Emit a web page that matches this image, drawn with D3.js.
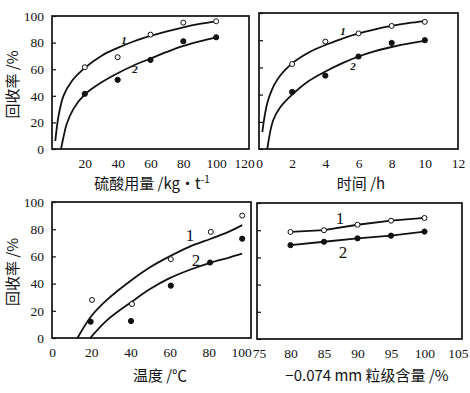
<!DOCTYPE html>
<html><head><meta charset="utf-8">
<script src="https://cdn.jsdelivr.net/npm/d3@7"></script>
<style>
html,body{margin:0;padding:0;background:#fff;}
svg{display:block;}
.tick text{font-family:"Liberation Serif","DejaVu Serif",serif;font-size:13.5px;fill:#111;}
.title{font-family:"Noto Sans CJK SC","Liberation Serif",serif;font-size:15px;fill:#111;}
.cl{font-family:"Liberation Serif",serif;fill:#111;}
</style></head>
<body>
<svg id="c" width="470" height="393"></svg>
<script>
// ---- Data ----
// Panel A: sulfuric acid dosage (kg/t)
const acidX = [20, 40, 60, 80, 100];
const acid1 = [61.5, 69, 86, 95, 96];
const acid2 = [41.5, 52, 67, 81, 84];
const acidCurve1X = [2, 4, 7, 12, 20, 30, 40, 50, 60, 70, 80, 90, 100];
const acidCurve1Y = [6, 25, 40, 51, 61, 70, 76, 81, 85, 88.5, 91.5, 94, 96];
const acidCurve2X = [5.5, 7, 9, 13, 20, 30, 40, 50, 60, 70, 80, 90, 100];
const acidCurve2Y = [0, 9, 19, 30, 41, 50, 57, 63, 68, 73, 77.5, 81, 84];
const acidTicksX = [20, 40, 60, 80, 100, 120];
// Panel B: time (h)
const timeX = [2, 4, 6, 8, 10];
const time1 = [62.5, 79, 85, 90.5, 93.5];
const time2 = [42, 54, 68, 78, 80];
const timeCurve1X = [0.2, 0.55, 1.1, 2, 3, 4, 5, 6, 7, 8, 9, 10];
const timeCurve1Y = [12.5, 36, 51, 63, 71, 76.5, 81, 85, 88, 90.5, 92.5, 94];
const timeCurve2X = [0.5, 0.85, 1.3, 2, 3, 4, 5, 6, 7, 8, 9, 10];
const timeCurve2Y = [0, 21, 31, 40, 50, 57, 63, 68, 72, 75, 77.5, 79.5];
const timeTicksX = [0, 2, 4, 6, 8, 10, 12];
// Panel C: temperature (°C)
const tempX = [20.4, 40.8, 60.6, 81, 97];
const temp1 = [28, 25, 58, 78, 90];
const tempX2 = [19.7, 40.3, 60.6, 80.6, 97];
const temp2 = [12, 12.5, 38.5, 55.5, 73];
const tempCurve1X = [13, 20, 28, 41, 50, 60, 70, 81, 90, 97];
const tempCurve1Y = [0, 16, 28, 43, 52, 60, 67, 73, 78, 83];
const tempCurve2X = [19.5, 28, 41, 50, 60, 70, 81, 90, 97];
const tempCurve2Y = [0, 13, 27, 36, 44, 50, 55.5, 59, 62];
const tempTicksX = [0, 20, 40, 60, 80, 100];
// Panel D: -0.074 mm fraction (%)
const sizeX = [80, 85, 90, 95, 100];
const size1 = [78.7, 80, 84, 87, 89];
const size2 = [69, 71.5, 74, 76, 79];
const sizeTicksX = [75, 80, 85, 90, 95, 100, 105];
const yTicks = [0, 20, 40, 60, 80, 100];
const yTitle = "回收率 /%";

// ---- Drawing ----
const svg = d3.select("#c");
const panels = [
  {xd:[0,120], xr:[52,249], yr:[149,16], xt:acidTicksX, yl:true,
   pts:[[acidX,acid1,false],[acidX,acid2,true]],
   curves:[[acidCurve1X,acidCurve1Y],[acidCurve2X,acidCurve2Y]],
   labels:[["1",124,44,11,true],["2",135,73,11,true]],
   title:"硫酸用量 /kg·t", sup:"-1", tx:152, ty:189},
  {xd:[0,12], xr:[259,458], yr:[149,13], xt:timeTicksX, yl:false,
   pts:[[timeX,time1,false],[timeX,time2,true]],
   curves:[[timeCurve1X,timeCurve1Y],[timeCurve2X,timeCurve2Y]],
   labels:[["1",343,35,11,true],["2",353,70,11,true]],
   title:"时间 /h", tx:361, ty:189},
  {xd:[0,101.5], xr:[52,251], yr:[338,202], xt:tempTicksX, yl:true,
   pts:[[tempX,temp1,false],[tempX2,temp2,true]],
   curves:[[tempCurve1X,tempCurve1Y],[tempCurve2X,tempCurve2Y]],
   labels:[["1",190,241,17,false],["2",196,266,17,false]],
   title:"温度 /℃", tx:160, ty:381},
  {xd:[75,105.6], xr:[257,462], yr:[339,203], xt:sizeTicksX, yl:false,
   pts:[[sizeX,size1,false],[sizeX,size2,true]],
   curves:[[sizeX,size1],[sizeX,size2]],
   labels:[["1",340,224,17,false],["2",343,258,17,false]],
   title:"−0.074 mm 粒级含量 /%", tx:367, ty:381}
];

panels.forEach((p,i)=>{
  const x = d3.scaleLinear().domain(p.xd).range(p.xr);
  const y = d3.scaleLinear().domain([0,100]).range(p.yr);
  const g = svg.append("g");
  // frame
  g.append("rect").attr("x",p.xr[0]).attr("y",p.yr[1])
    .attr("width",p.xr[1]-p.xr[0]).attr("height",p.yr[0]-p.yr[1])
    .attr("fill","none").attr("stroke","#111").attr("stroke-width",1.7);
  // y axis (inward ticks)
  const ya = g.append("g").attr("transform",`translate(${p.xr[0]},0)`)
    .call(d3.axisLeft(y).tickValues(yTicks).tickSizeInner(-4).tickSizeOuter(0).tickPadding(8));
  ya.select(".domain").remove();
  ya.selectAll("line").attr("stroke","#111").attr("stroke-width",1.2);
  if(!p.yl) ya.selectAll("text").remove();
  // x axis
  const xa = g.append("g").attr("transform",`translate(0,${p.yr[0]})`)
    .call(d3.axisBottom(x).tickValues(p.xt).tickSize(0).tickPadding(9));
  xa.select(".domain").remove();
  if(i===0) xa.selectAll("text").filter(d=>d===120).attr("dx",-5);
  if(i===2) xa.selectAll("text").filter(d=>d===100).attr("dx",-7);
  if(i===3) xa.selectAll("text").filter(d=>d===75).attr("dx",2);
  // curves
  const line = d3.line().x(d=>x(d[0])).y(d=>y(d[1]))
    .curve(i===3 ? d3.curveLinear : d3.curveCatmullRom.alpha(0.5));
  p.curves.forEach(c=>{
    g.append("path").datum(c[0].map((v,k)=>[v,c[1][k]]))
      .attr("d",line).attr("fill","none").attr("stroke","#111").attr("stroke-width",1.8);
  });
  // points
  p.pts.forEach(s=>{
    g.selectAll(null).data(s[0].map((v,k)=>[v,s[1][k]])).enter().append("circle")
      .attr("cx",d=>x(d[0])).attr("cy",d=>y(d[1])).attr("r",s[2]?2.6:2.5)
      .attr("fill",s[2]?"#111":"#fff").attr("stroke","#111").attr("stroke-width",1);
  });
  // curve labels
  p.labels.forEach(l=>{
    g.append("text").attr("class","cl").attr("x",l[1]).attr("y",l[2])
      .attr("text-anchor","middle").attr("font-size",l[3])
      .attr("font-style",l[4]?"italic":"normal").attr("font-weight",l[4]?"bold":"normal").text(l[0]);
  });
  // x title
  const t = g.append("text").attr("class","title").attr("x",p.tx).attr("y",p.ty)
    .attr("text-anchor","middle").text(p.title);
  if(p.sup) t.append("tspan").attr("dy",-6).attr("font-size",10).text(p.sup);
  // y title
  if(p.yl){
    const cy = (p.yr[0]+p.yr[1])/2 + 2;
    g.append("text").attr("class","title").attr("transform",`translate(18,${cy}) rotate(-90)`)
      .attr("text-anchor","middle").text(yTitle);
  }
});
</script>
</body></html>
